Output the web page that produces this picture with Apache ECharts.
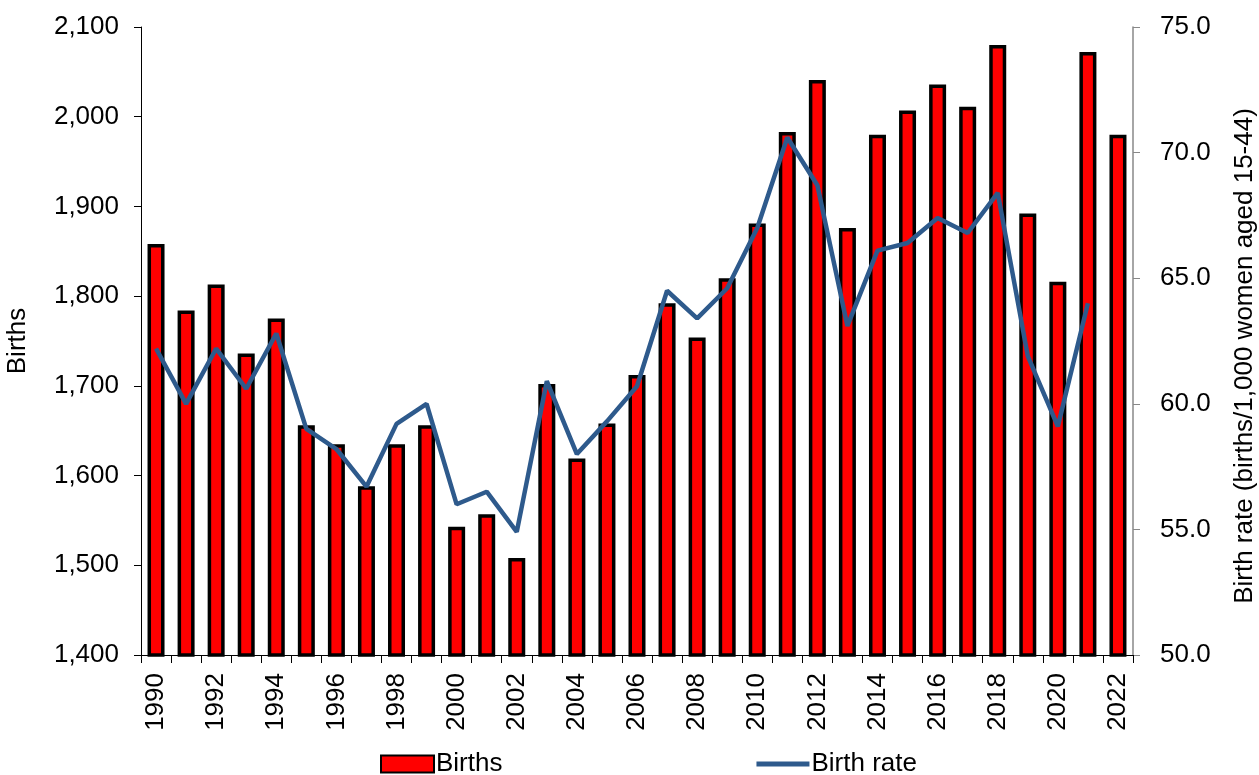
<!DOCTYPE html>
<html>
<head>
<meta charset="utf-8">
<script src="https://cdn.jsdelivr.net/npm/echarts@6/dist/echarts.min.js"></script>
<style>
html,body{margin:0;padding:0;background:#fff;}
#chart{width:1259px;height:775px;}
</style>
</head>
<body>
<div id="chart"></div>
<script>
const years = ['1990','1991','1992','1993','1994','1995','1996','1997','1998','1999','2000','2001','2002','2003','2004','2005','2006','2007','2008','2009','2010','2011','2012','2013','2014','2015','2016','2017','2018','2019','2020','2021','2022'];
const births = [1858,1784,1813,1736,1775,1656,1635,1588,1635,1656,1543,1557,1508,1702,1619,1658,1712,1792,1754,1820,1881,1983,2041,1876,1980,2007,2036,2011,2080,1892,1816,2072,1980];
const birthRate = [62.2,60.0,62.2,60.6,62.8,59.0,58.2,56.7,59.2,60.0,56.0,56.5,54.9,60.9,58.0,59.3,60.7,64.5,63.4,64.6,67.0,70.6,68.7,63.1,66.1,66.4,67.4,66.8,68.4,61.9,59.1,64.0,null];
const leftTicks = {min:1400, max:2100, interval:100};
const rightTicks = {min:50, max:75, interval:5};

const FONT = "'Liberation Sans', Arial, sans-serif";
const LINE_COLOR = '#2e5a8c';
const chart = echarts.init(document.getElementById('chart'), null, {renderer:'canvas'});
chart.setOption({
  backgroundColor:'#ffffff',
  animation:false,
  textStyle:{fontFamily:FONT, color:'#000'},
  grid:{left:141, right:126, top:27, bottom:120, containLabel:false, outerBoundsMode:'none'},
  legend:{
    left:375, top:746, itemGap:254, itemWidth:53, itemHeight:17,
    textStyle:{fontFamily:FONT, fontSize:26, color:'#000', padding:[0,0,0,-3]},
    data:[
      {name:'Births', icon:'rect'},
      {name:'Birth rate', icon:'path://M0,0 L120,0 L120,11 L0,11 Z'}
    ]
  },
  xAxis:{
    type:'category', data:years, boundaryGap:true,
    axisLine:{show:true, lineStyle:{color:'#000', width:1}},
    axisTick:{show:true, interval:0, alignWithLabel:false, length:8, lineStyle:{color:'#000'}},
    axisLabel:{interval:1, rotate:90, margin:18, fontSize:26, color:'#000', fontFamily:FONT},
    splitLine:{show:false}
  },
  yAxis:[
    {
      type:'value', min:leftTicks.min, max:leftTicks.max, interval:leftTicks.interval,
      name:'Births', nameLocation:'middle', nameGap:110, nameRotate:90,
      nameTextStyle:{fontSize:26, color:'#000', fontFamily:FONT},
      axisLine:{show:true, lineStyle:{color:'#000', width:1}},
      axisTick:{show:true, length:7, lineStyle:{color:'#000'}},
      axisLabel:{fontSize:26, color:'#000', margin:22, fontFamily:FONT,
        formatter:v=>v.toLocaleString('en-US')},
      splitLine:{show:false}
    },
    {
      type:'value', position:'right', min:rightTicks.min, max:rightTicks.max, interval:rightTicks.interval,
      name:'Birth rate (births/1,000 women aged 15-44)', nameLocation:'middle', nameGap:99, nameRotate:90,
      nameTextStyle:{fontSize:26, color:'#000', fontFamily:FONT, padding:[0,30,0,0]},
      axisLine:{show:true, lineStyle:{color:'#888', width:1.5}},
      axisTick:{show:true, length:7, lineStyle:{color:'#888'}},
      axisLabel:{fontSize:26, color:'#000', margin:27, fontFamily:FONT,
        formatter:v=>v.toFixed(1)},
      splitLine:{show:false}
    }
  ],
  series:[
    {
      name:'Births', type:'bar', yAxisIndex:0, data:births, barWidth:17,
      itemStyle:{color:'#ff0000', borderColor:'#000', borderWidth:3.5}
    },
    {
      name:'Birth rate', type:'line', yAxisIndex:1, data:birthRate,
      symbol:'none', showSymbol:false, connectNulls:false,
      lineStyle:{color:LINE_COLOR, width:4.5}, itemStyle:{color:LINE_COLOR}
    }
  ]
});
</script>
</body>
</html>
